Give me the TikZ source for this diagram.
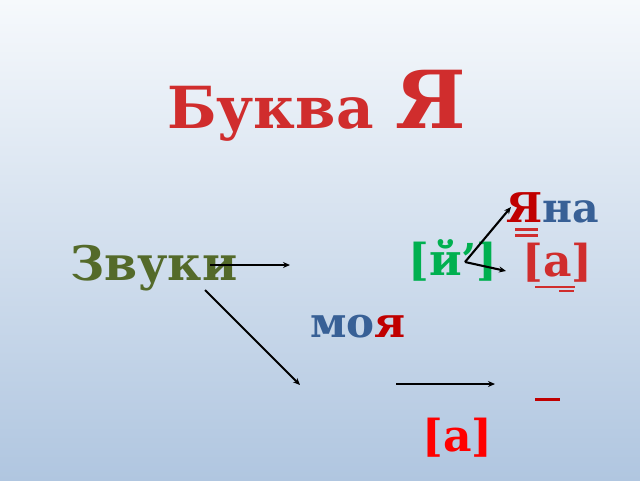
\documentclass[tikz,border=0pt]{standalone}
\usepackage{fontspec}
\setmainfont{DejaVu Serif}
\usetikzlibrary{arrows.meta}
\definecolor{bgtop}{RGB}{246,249,252}
\definecolor{bgbot}{RGB}{176,198,224}
\definecolor{titlered}{RGB}{208,45,45}
\definecolor{olive}{RGB}{84,106,42}
\definecolor{jgreen}{RGB}{0,176,80}
\definecolor{dred}{RGB}{192,0,0}
\definecolor{wblue}{RGB}{56,96,150}
\definecolor{bred}{RGB}{255,0,0}
\tikzset{
  txt/.style={anchor=base west, inner sep=0pt, font=\bfseries},
  arr/.style={-{Stealth[length=7pt,width=6pt]}, line width=2.1pt, black},
  mark line/.style={line width=3pt}
}
\begin{document}
\begin{tikzpicture}[x=1pt,y=-1pt]
\shade[top color=bgtop, bottom color=bgbot] (0,0) rectangle (640,480);
\useasboundingbox (0,0) rectangle (640,480);
% title
\node[txt, text=titlered, font=\bfseries\fontsize{58}{60}\selectfont] (t1) at (167,128) {Буква};
\node[txt, text=titlered, font=\bfseries\fontsize{80}{82}\selectfont] (t2) at (395,128) {Я};
% words
\node[txt, text=olive, font=\bfseries\fontsize{47.5}{50}\selectfont] (zv) at (70,280) {Звуки};
\node[txt, text=jgreen, font=\bfseries\fontsize{44}{46}\selectfont] (jot) at (408,275) {[й’]};
\node[txt, font=\bfseries\fontsize{41}{43}\selectfont] (yana) at (506,222) {\textcolor{dred}{Я}\textcolor{wblue}{на}};
\node[txt, text=titlered, font=\bfseries\fontsize{44}{46}\selectfont] (a1) at (522,276) {[а]};
\node[txt, font=\bfseries\fontsize{42}{44}\selectfont] (moya) at (310,337) {\textcolor{wblue}{мо}\textcolor{dred}{я}};
\node[txt, text=bred, font=\bfseries\fontsize{44}{46}\selectfont] (a2) at (422,451) {[а]};
% marks
\draw[mark line, titlered] (515,229) -- (538,229);
\draw[mark line, titlered] (515,235) -- (538,235);
\draw[line width=2.5pt, titlered] (535,287) -- (575,287);
\draw[line width=2.5pt, titlered] (559,291) -- (574,291);
\draw[mark line, dred] (535,399) -- (560,399);
% connector points
\coordinate (p1s) at (210,265);
\coordinate (p1e) at (290,265);
\coordinate (p2s) at (205,290);
\coordinate (p2e) at (300,385);
\coordinate (p3s) at (396,384);
\coordinate (p3e) at (495,384);
\coordinate (fork) at (465,262);
\coordinate (p4e) at (511,207);
\coordinate (p5e) at (506,271);
\draw[arr] (p1s) -- (p1e);
\draw[arr] (p2s) -- (p2e);
\draw[arr] (p3s) -- (p3e);
\draw[arr] (fork) -- (p4e);
\draw[arr] (fork) -- (p5e);
\end{tikzpicture}
\end{document}
